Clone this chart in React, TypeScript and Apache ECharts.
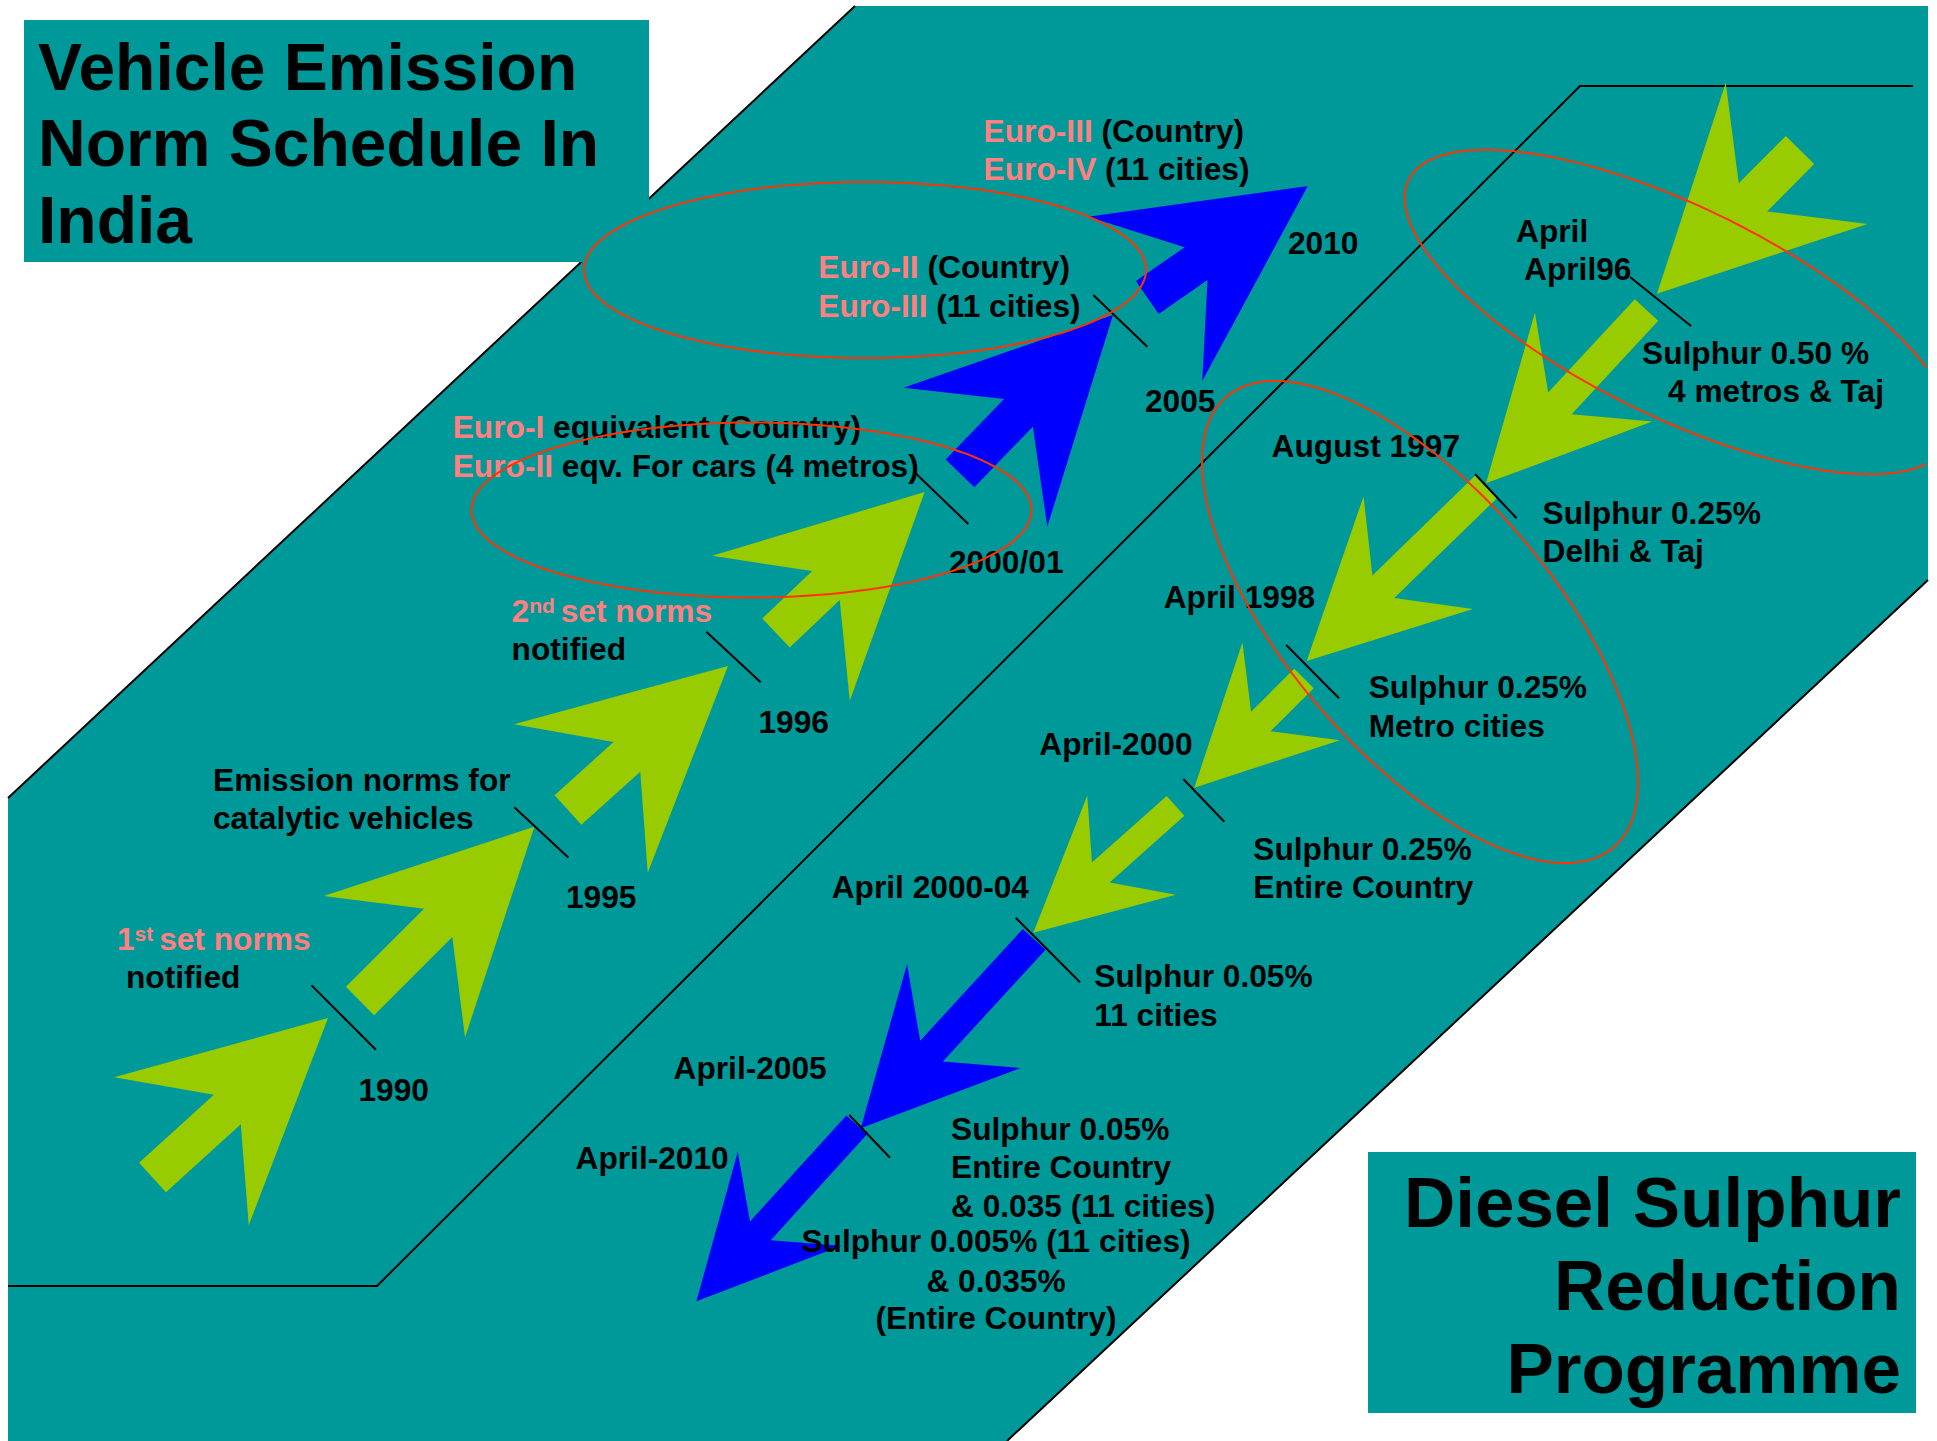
import React, { useEffect, useRef } from 'react';
import * as echarts from 'echarts';

const W = 1937;
const H = 1441;

const TEAL = '#009999';
const GREEN = '#99CC00';
const BLUE = '#0000FF';
const PINK = '#FF8080';
const RED = '#FF3300';
const FAMILY = '"Liberation Sans", Arial, Helvetica, sans-serif';
const LABEL_SIZE = 31.7;
const SUP_SIZE = 21;

// ---------------- content ----------------
const normTitle = ['Vehicle Emission', 'Norm Schedule In', 'India'];
const sulphurTitle = ['Diesel Sulphur', 'Reduction', 'Programme'];

const normYears = ['1990', '1995', '1996', '2000/01', '2005', '2010'];
const normNotes = [
  ['{p|1}{s|st }{p|set norms}', 'notified'],
  ['Emission norms for', 'catalytic vehicles'],
  ['{p|2}{s|nd }{p|set norms}', 'notified'],
  ['{p|Euro-I }equivalent (Country)', '{p|Euro-II }eqv. For cars (4 metros)'],
  ['{p|Euro-II }(Country)', '{p|Euro-III }(11 cities)'],
  ['{p|Euro-III }(Country)', '{p|Euro-IV }(11 cities)'],
];
// arrow phase per step of the norm timeline
const normPhase = ['green', 'green', 'green', 'green', 'blue', 'blue'];

const sulphurDates = [
  ['April', 'April96'],
  ['August 1997'],
  ['April 1998'],
  ['April-2000'],
  ['April 2000-04'],
  ['April-2005'],
  ['April-2010'],
];
const sulphurLevels = [
  ['Sulphur 0.50 %', '4 metros & Taj'],
  ['Sulphur 0.25%', 'Delhi & Taj'],
  ['Sulphur 0.25%', 'Metro cities'],
  ['Sulphur 0.25%', 'Entire Country'],
  ['Sulphur 0.05%', '11 cities'],
  ['Sulphur 0.05%', 'Entire Country', '& 0.035 (11 cities)'],
  ['Sulphur 0.005% (11 cities)', '& 0.035%', '(Entire Country)'],
];
const sulphurPhase = ['green', 'green', 'green', 'green', 'green', 'blue', 'blue'];

// ---------------- layout (diagram coordinates) ----------------
const tealOutline = [[855, 6], [1928, 6], [1928, 580], [1007, 1441], [8, 1441], [8, 798]];
const borderLines = [
  [[855, 6], [8, 798]],
  [[1928, 580], [1007, 1441]],
  [[1913, 86], [1580, 86], [377, 1286], [8, 1286]],
];
const CLIP_X = 1928;

// [tailX, tailY, tipX, tipY, scale]
const normArrows = [
  [152.5, 1177.5, 328, 1018, 1],
  [360, 1001, 534.4, 826.7, 1],
  [568, 810, 728, 666, 1],
  [776, 633, 924.6, 492, 1],
  [960, 473.3, 1113, 315, 1],
  [1147.3, 297.5, 1307.8, 186, 1],
];
const sulphurArrows = [
  [1800, 150, 1657, 293.75, 1],
  [1646.5, 310, 1486, 483.3, 0.8],
  [1486, 487, 1306.7, 661, 0.785],
  [1304, 678.5, 1194.3, 787.7, 0.69],
  [1175.5, 805.8, 1033.3, 932.7, 0.665],
  [1034.2, 939.3, 860.7, 1128.3, 0.77],
  [856.7, 1124.8, 696.4, 1301.3, 0.7],
];

const milestoneTicks = [
  [311.6, 985.4, 375.9, 1049.7],
  [514.3, 807.3, 568.3, 857.4],
  [706.3, 631.7, 760.7, 682.3],
  [915.6, 473.3, 968.3, 524],
  [1093.3, 295, 1147.3, 346.7],
  [1630, 277, 1691, 326],
  [1475, 474, 1516.6, 518.3],
  [1286.2, 645, 1339, 698.3],
  [1183.3, 779, 1224.3, 821.7],
  [1015.7, 917.7, 1080, 982.3],
  [849.3, 1115, 890, 1157.7],
];

// [cx, cy, semiMajor, semiMinor, tiltDeg]
const highlightRings = [
  [865, 270, 281, 88, 0],
  [751.5, 510, 280, 87.5, 0],
  [1678, 312, 300, 105, 26.1],
  [1420, 622, 297, 132, 49.3],
];

const titleBoxes = [
  [24, 20, 649, 262],
  [1368, 1152, 1916, 1413],
];
const normTitleXY = [[38, 90], [38, 166], [38, 243]];
const sulphurTitleXY = [[1901, 1227], [1901, 1310], [1901, 1393]];

const normYearXY = [[358.5, 1100.8], [566, 908], [758.5, 733.3], [949, 573.3], [1145, 411.7], [1288, 254]];
const normNoteXY = [
  [[117, 949.5], [126, 988]],
  [[213, 790.7], [213, 828.5]],
  [[511.6, 621.7], [511.6, 660]],
  [[452.7, 438.3], [452.7, 476.7]],
  [[818.3, 278.3], [818.3, 316.7]],
  [[983.6, 141.7], [983.6, 180]],
];
const sulphurDateXY = [
  [[1516, 241.7], [1524, 280]],
  [[1271.6, 456.7]],
  [[1163.7, 608.3]],
  [[1039.3, 755]],
  [[831.7, 898.3]],
  [[673.5, 1079.4]],
  [[575.5, 1169]],
];
const sulphurLevelXY = [
  [[1642, 363.5], [1668, 401.7]],
  [[1542.5, 524], [1542.5, 561.7]],
  [[1368.7, 698.3], [1368.7, 737.3]],
  [[1253.3, 860], [1253.3, 898.3]],
  [[1094.3, 986.7], [1094.3, 1026]],
  [[951, 1140], [951, 1178.3], [951, 1216.7]],
  [[996, 1251.7], [996, 1291.7], [996, 1329]],
];
const sulphurLevelAlign = ['left', 'left', 'left', 'left', 'left', 'left', 'center'];

// ---------------- assemble text items ----------------
type TextItem = { x: number; y: number; text: string; size: number; align: string };
const textItems: TextItem[] = [];
normTitle.forEach((t, i) => textItems.push({ x: normTitleXY[i][0], y: normTitleXY[i][1], text: t, size: 66, align: 'left' }));
sulphurTitle.forEach((t, i) => textItems.push({ x: sulphurTitleXY[i][0], y: sulphurTitleXY[i][1], text: t, size: 71, align: 'right' }));
normYears.forEach((t, i) => textItems.push({ x: normYearXY[i][0], y: normYearXY[i][1], text: t, size: LABEL_SIZE, align: 'left' }));
normNotes.forEach((lines, i) => lines.forEach((t, j) => textItems.push({ x: normNoteXY[i][j][0], y: normNoteXY[i][j][1], text: t, size: LABEL_SIZE, align: 'left' })));
sulphurDates.forEach((lines, i) => lines.forEach((t, j) => textItems.push({ x: sulphurDateXY[i][j][0], y: sulphurDateXY[i][j][1], text: t, size: LABEL_SIZE, align: 'left' })));
sulphurLevels.forEach((lines, i) => lines.forEach((t, j) => textItems.push({ x: sulphurLevelXY[i][j][0], y: sulphurLevelXY[i][j][1], text: t, size: LABEL_SIZE, align: sulphurLevelAlign[i] })));

const phaseColor = (p: string) => (p === 'blue' ? BLUE : GREEN);

function arrowShape(tx: number, ty: number, hx: number, hy: number, s: number) {
  const dx = tx - hx;
  const dy = ty - hy;
  const L = Math.hypot(dx, dy);
  const bx = dx / L;
  const by = dy / L;
  const px = -by;
  const py = bx;
  const P = (a: number, b: number) => [hx + a * bx + b * px, hy + a * by + b * py];
  return [
    P(0, 0),
    P(198 * s, 100 * s),
    P(136 * s, 20 * s),
    P(L, 20 * s),
    P(L, -20 * s),
    P(136 * s, -20 * s),
    P(198 * s, -100 * s),
  ];
}

function arrowSeries(name: string, arrows: number[][], phases: string[]) {
  return {
    type: 'custom',
    name,
    z: 3,
    silent: true,
    clip: false,
    data: arrows,
    renderItem: (params: any, api: any) => {
      const pts = arrowShape(api.value(0), api.value(1), api.value(2), api.value(3), api.value(4));
      return {
        type: 'polygon',
        shape: { points: pts.map((p) => api.coord(p)) },
        style: { fill: phaseColor(phases[params.dataIndex]), stroke: 'none' },
      };
    },
  };
}

function App() {
  const ref = useRef<HTMLDivElement>(null);

  useEffect(() => {
    if (!ref.current) return;
    const chart = echarts.init(ref.current, null, { renderer: 'svg' });
    const option: any = {
      animation: false,
      backgroundColor: '#ffffff',
      grid: { left: 0, right: 0, top: 0, bottom: 0 },
      xAxis: { type: 'value', min: 0, max: W, show: false },
      yAxis: { type: 'value', min: 0, max: H, inverse: true, show: false },
      series: [
        {
          type: 'custom',
          name: 'band',
          z: 1,
          silent: true,
          clip: false,
          data: [[0, 0]],
          renderItem: (params: any, api: any) => ({
            type: 'polygon',
            shape: { points: tealOutline.map((p) => api.coord(p)) },
            style: { fill: TEAL, stroke: 'none' },
          }),
        },
        {
          type: 'custom',
          name: 'borders',
          z: 2,
          silent: true,
          clip: false,
          data: borderLines.map((_, i) => [i, 0]),
          renderItem: (params: any, api: any) => ({
            type: 'polyline',
            shape: { points: borderLines[params.dataIndex].map((p) => api.coord(p)) },
            style: { stroke: '#000000', lineWidth: 2, fill: 'none' },
          }),
        },
        arrowSeries('norms', normArrows, normPhase),
        arrowSeries('sulphur', sulphurArrows, sulphurPhase),
        {
          type: 'custom',
          name: 'ticks',
          z: 4,
          silent: true,
          clip: false,
          data: milestoneTicks,
          renderItem: (params: any, api: any) => {
            const a = api.coord([api.value(0), api.value(1)]);
            const b = api.coord([api.value(2), api.value(3)]);
            return {
              type: 'line',
              shape: { x1: a[0], y1: a[1], x2: b[0], y2: b[1] },
              style: { stroke: '#000000', lineWidth: 2 },
            };
          },
        },
        {
          type: 'custom',
          name: 'titleBoxes',
          z: 5,
          silent: true,
          clip: false,
          data: titleBoxes,
          renderItem: (params: any, api: any) => {
            const a = api.coord([api.value(0), api.value(1)]);
            const b = api.coord([api.value(2), api.value(3)]);
            return {
              type: 'rect',
              shape: { x: a[0], y: a[1], width: b[0] - a[0], height: b[1] - a[1] },
              style: { fill: TEAL, stroke: 'none' },
            };
          },
        },
        {
          type: 'custom',
          name: 'texts',
          z: 6,
          silent: true,
          clip: false,
          data: textItems.map((t) => [t.x, t.y]),
          renderItem: (params: any, api: any) => {
            const it = textItems[params.dataIndex];
            const font = `bold ${it.size}px ${FAMILY}`;
            const p = api.coord([api.value(0), api.value(1) - 0.347 * it.size]);
            return {
              type: 'text',
              x: p[0],
              y: p[1],
              style: {
                text: it.text,
                fill: '#000000',
                font,
                align: it.align,
                verticalAlign: 'middle',
                rich: {
                  p: { fill: PINK, font },
                  s: { fill: PINK, font: `bold ${SUP_SIZE}px ${FAMILY}`, verticalAlign: 'top' },
                },
              },
            };
          },
        },
        {
          type: 'custom',
          name: 'rings',
          z: 7,
          silent: true,
          clip: false,
          data: highlightRings,
          renderItem: (params: any, api: any) => {
            const cx = api.value(0);
            const cy = api.value(1);
            const a = api.value(2);
            const b = api.value(3);
            const t = (api.value(4) * Math.PI) / 180;
            const c = Math.cos(t);
            const s = Math.sin(t);
            const N = 240;
            const segs: number[][][] = [];
            let cur: number[][] = [];
            for (let i = 0; i <= N; i++) {
              const u = (i / N) * Math.PI * 2;
              const ex = a * Math.cos(u);
              const ey = b * Math.sin(u);
              const x = cx + ex * c - ey * s;
              const y = cy + ex * s + ey * c;
              if (x <= CLIP_X) {
                cur.push(api.coord([x, y]));
              } else {
                if (cur.length > 1) segs.push(cur);
                cur = [];
              }
            }
            if (cur.length > 1) segs.push(cur);
            return {
              type: 'group',
              children: segs.map((pts) => ({
                type: 'polyline',
                shape: { points: pts },
                style: { stroke: RED, lineWidth: 2, fill: 'none' },
              })),
            };
          },
        },
      ],
    };
    chart.setOption(option);
    return () => chart.dispose();
  }, []);

  return <div ref={ref} style={{ position: 'fixed', left: 0, top: 0, width: W, height: H }} />;
}

export default App;
